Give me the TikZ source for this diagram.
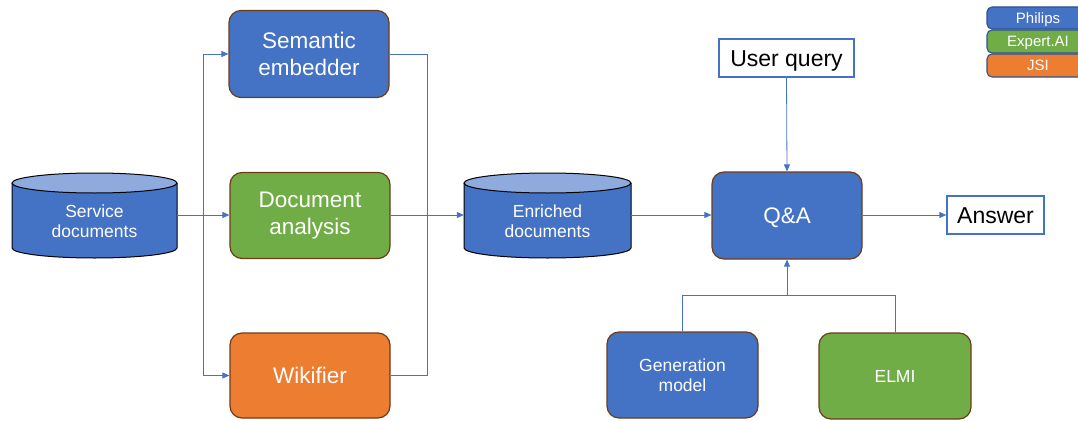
\documentclass[tikz,border=0pt]{standalone}
\usepackage{fontspec}
\setmainfont{Liberation Sans}
\usetikzlibrary{arrows.meta}
\definecolor{cblue}{HTML}{4472C4}
\definecolor{cgreen}{HTML}{70AD47}
\definecolor{corange}{HTML}{ED7D31}
\definecolor{clight}{HTML}{8FAADC}
\definecolor{cbrown}{HTML}{6E3B17}
\definecolor{cdark}{HTML}{2F528F}
\newcommand\drawcyl[4]{%
  \fill[cblue] (#1-#2,#3) -- (#1-#2,#4) arc[start angle=180,end angle=0,x radius=#2,y radius=10] -- (#1+#2,#3) -- cycle;
  \draw[black,line width=1pt] (#1-#2,#3) -- (#1-#2,#4) arc[start angle=180,end angle=0,x radius=#2,y radius=10] -- (#1+#2,#3);
  \draw[black,line width=1pt,fill=clight] (#1,#3) ellipse[x radius=#2,y radius=10];
}
\begin{document}
\begin{tikzpicture}[x=1pt,y=-1pt,
  proc/.style={draw=cbrown,line width=1.2pt,rounded corners=12pt,text=white,align=center,inner sep=0pt},
  big/.style={font=\fontsize{22.5}{27}\selectfont},
  bigone/.style={big,text height=16.1pt,text depth=0pt},
  small/.style={font=\fontsize{17.5}{20.5}\selectfont},
  smallone/.style={small,text height=12.5pt,text depth=0pt},
  cyltext/.style={text=white,align=center,inner sep=0pt,font=\fontsize{17.5}{20.5}\selectfont},
  io/.style={draw=cblue,line width=1.3pt,fill=white,inner sep=0pt,font=\fontsize{23}{27}\selectfont,text height=16.5pt,text depth=0pt},
  legend/.style={draw=cdark,line width=1.1pt,rounded corners=5pt,text=white,inner sep=0pt,minimum width=102pt,font=\fontsize{15}{17}\selectfont,text height=10.7pt,text depth=0pt},
  line/.style={draw=cblue,line width=0.8pt},
  arrow/.style={line,-{Triangle[length=7pt,width=6pt]}}
]
\useasboundingbox (0,0) rectangle (1078,420);

% cylinders
\drawcyl{94.5}{82.5}{183}{248}
\drawcyl{547.5}{83.5}{183}{248}
\node[cyltext,minimum width=165pt] (svc) at (94.5,221) {Service\\documents};
\node[cyltext,minimum width=167pt] (enr) at (547.5,221) {Enriched\\documents};

% processes
\node[proc,big,fill=cblue,minimum width=160pt,minimum height=87pt] (se) at (309,54) {Semantic\\embedder};
\node[proc,big,fill=cgreen,minimum width=160pt,minimum height=86pt] (da) at (310,215.5) {Document\\analysis};
\node[proc,bigone,fill=corange,minimum width=160pt,minimum height=85pt] (wk) at (310,375.5) {Wikifier};
\node[proc,bigone,fill=cblue,minimum width=150pt,minimum height=87pt] (qa) at (787,215.5) {Q\&A};
\node[proc,small,fill=cblue,minimum width=151pt,minimum height=86pt] (gen) at (682.5,375) {Generation\\model};
\node[proc,smallone,fill=cgreen,minimum width=152pt,minimum height=86pt] (elmi) at (895,376) {ELMI};

% io boxes
\node[io,minimum width=135pt,minimum height=38pt] (uq) at (786.5,58) {User query};
\node[io,minimum width=97pt,minimum height=38pt] (ans) at (995.5,215) {Answer};

% legend
\node[legend,fill=cblue,minimum height=22pt] (lp) at (1038,18) {Philips};
\node[legend,fill=cgreen,minimum height=23pt] (le) at (1038,41.5) {Expert.AI};
\node[legend,fill=corange,minimum height=23pt] (lj) at (1038,65.5) {JSI};

% connectors
\coordinate (split) at (203,215);
\coordinate (merge) at (427,215);
\draw[arrow] (svc.east |- split) -- (da.west |- split);
\draw[line] (split |- se.west) -- (split |- wk.west);
\draw[arrow] (split |- se.west) -- (se.west);
\draw[arrow] (split |- wk.west) -- (wk.west);
\draw[line] (se.east) -- (se.east -| merge) -- (wk.east -| merge) -- (wk.east);
\draw[line] (da.east |- merge) -- (merge);
\draw[arrow] (merge) -- (enr.west |- merge);
\draw[arrow] (enr.east |- merge) -- (qa.west |- merge);
\draw[arrow] (qa.east |- merge) -- (ans.west |- merge);
\draw[arrow] (uq.south) -- (qa.north);
\path (qa.south) ++(0,36) coordinate (jn);
\draw[line] (gen.north) |- (jn) -| (elmi.north);
\draw[arrow] (jn) -- (qa.south);
\end{tikzpicture}
\end{document}
